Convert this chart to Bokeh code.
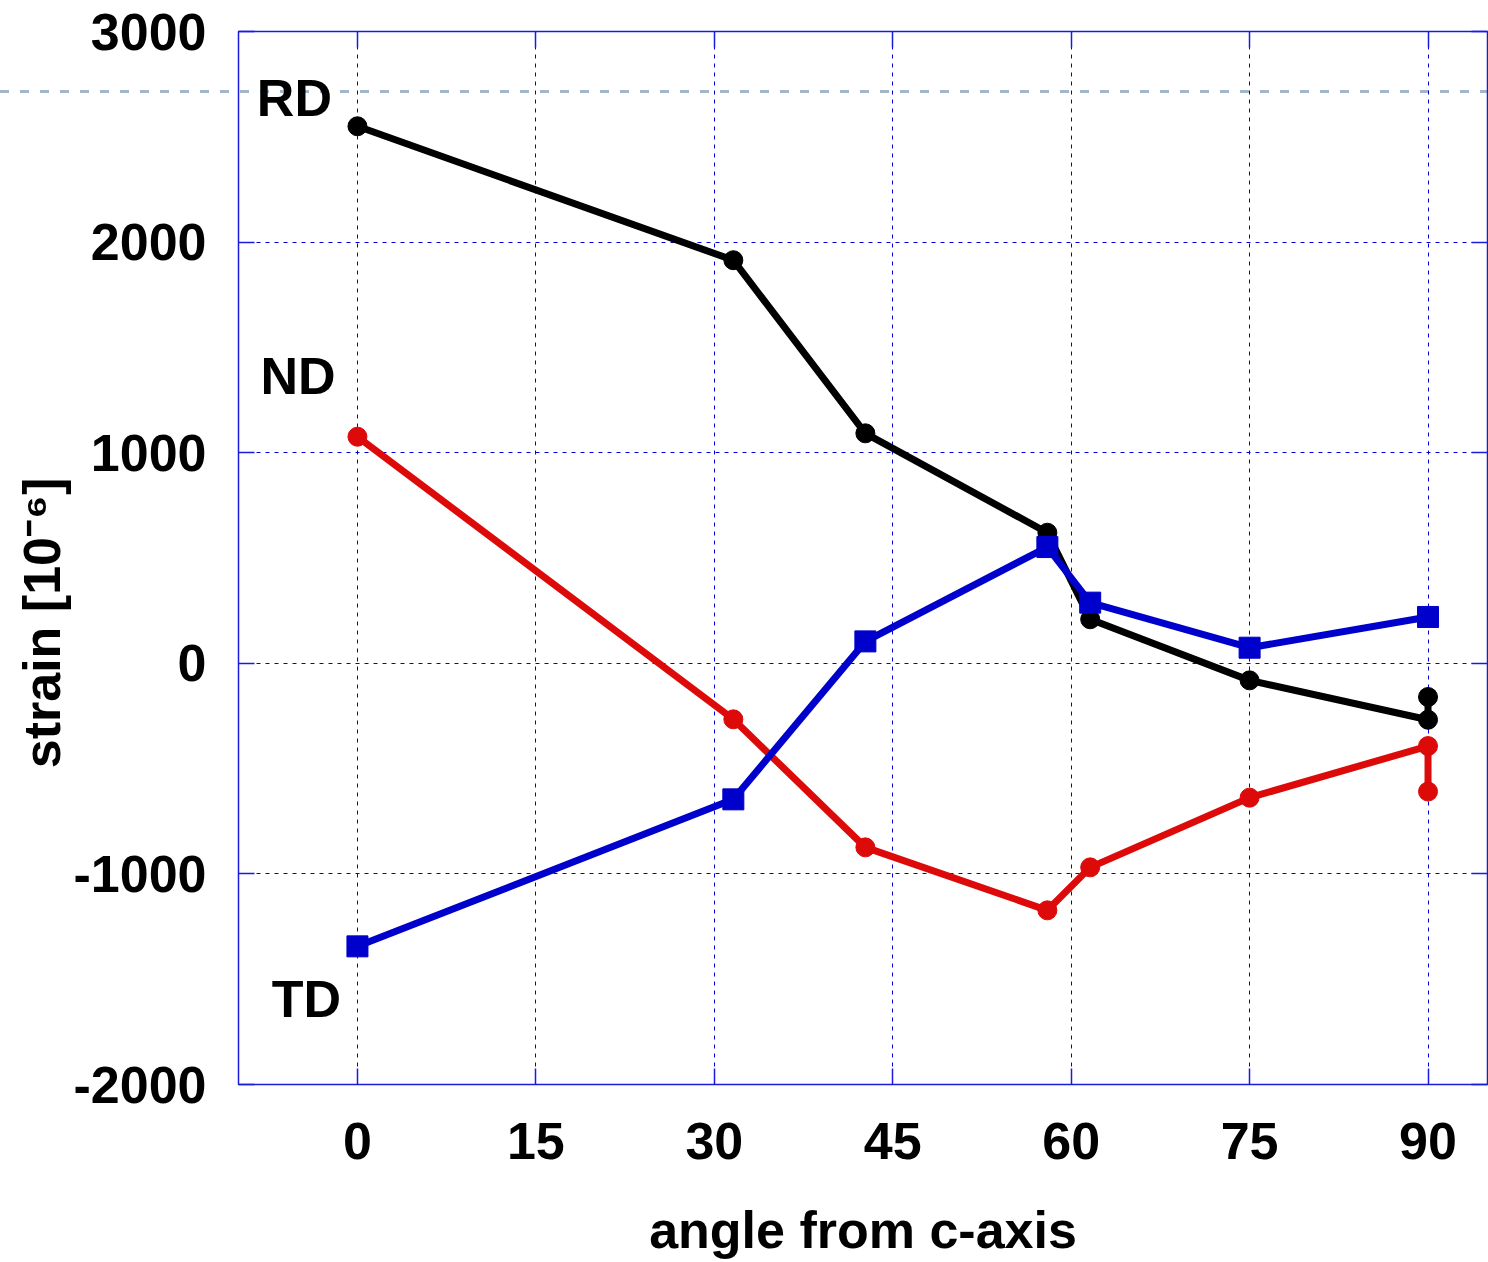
from bokeh.plotting import figure
from bokeh.models import (ColumnDataSource, FixedTicker, LinearAxis,
                          Range1d, CustomJSTickFormatter, InlineStyleSheet)
from bokeh.core.properties import value
from bokeh.embed import file_html
from bokeh.resources import INLINE

# ---------------- data ----------------
rd_x = [0, 31.6, 42.7, 58.0, 61.6, 75.0, 90.0, 90.0]
rd_y = [2550, 1914, 1092, 620, 209, -81, -268, -160]

nd_x = [0, 31.6, 42.7, 58.0, 61.6, 75.0, 90.0, 90.0]
nd_y = [1076, -266, -874, -1173, -969, -638, -393, -609]

td_x = [0, 31.6, 42.7, 58.0, 61.6, 75.0, 90.0]
td_y = [-1344, -646, 104, 552, 288, 74, 220]

series_names = ["RD", "ND", "TD"]
name_x = [-5.3, -5.0, -4.3]
name_y = [2683, 1363, -1595]

x_ticks = [0, 15, 30, 45, 60, 75, 90]
y_ticks = [-2000, -1000, 0, 1000, 2000, 3000]
y_tick_text = {t: str(t) for t in y_ticks}

x_label = "angle from c-axis"
y_label = "strain [10\u207b\u2076]" + "\u00a0" * 9

# ---------------- styling ----------------
FONT = "Liberation Sans"
FS = "52px"
GRID = "#0000dd"
BORDER = "#1a1ae0"
BLACK = "#000000"
RED = "#dd0a0a"
BLUE = "#0000cc"

# light dashed rule across the whole page (behind the transparent canvas)
page_rule = InlineStyleSheet(css="""
:host {
  background-color: white;
  background-image: repeating-linear-gradient(to right,
      #a3b7cc 0px, #a3b7cc 9px, transparent 9px, transparent 20px);
  background-size: 100% 3px;
  background-position: 0px 90px;
  background-repeat: no-repeat;
}
""")

p = figure(width=1488, height=1262,
           x_range=Range1d(-10, 95), y_range=Range1d(-2000, 3000),
           output_backend="svg", toolbar_location=None,
           min_border_left=238, min_border_right=1,
           min_border_top=31, min_border_bottom=178,
           stylesheets=[page_rule])

p.background_fill_color = None
p.border_fill_color = None
p.outline_line_color = BORDER
p.outline_line_width = 1.5

# grid
for g, ticks in ((p.xgrid, x_ticks), (p.ygrid, y_ticks)):
    g.ticker = FixedTicker(ticks=ticks)
    g.grid_line_color = GRID
    g.grid_line_width = 1
    g.grid_line_dash = "4 5"

# main axes
for ax, ticks in ((p.xaxis, x_ticks), (p.yaxis, y_ticks)):
    ax.ticker = FixedTicker(ticks=ticks, minor_ticks=[])
    ax.axis_line_color = None
    ax.major_tick_in = 16
    ax.major_tick_out = 0
    ax.major_tick_line_color = BORDER
    ax.major_tick_line_width = 1.5
    ax.minor_tick_line_color = None
    ax.major_label_text_font = FONT
    ax.major_label_text_font_style = "bold"
    ax.major_label_text_font_size = FS
    ax.major_label_text_color = "black"
    ax.axis_label_text_font = FONT
    ax.axis_label_text_font_style = "bold"
    ax.axis_label_text_font_size = FS
    ax.axis_label_text_color = "black"

p.yaxis.major_label_overrides = y_tick_text
p.xaxis.major_label_standoff = 38
p.yaxis.major_label_standoff = 32
p.xaxis.axis_label = x_label
p.xaxis.axis_label_standoff = 39
p.yaxis.axis_label = y_label
p.yaxis.axis_label_standoff = 0

# mirrored tick axes (top / right)
blank = CustomJSTickFormatter(code="return ''")
for ticks, side in ((x_ticks, "above"), (y_ticks, "right")):
    ax = LinearAxis(ticker=FixedTicker(ticks=ticks, minor_ticks=[]),
                    formatter=blank, axis_line_color=None,
                    major_tick_in=16, major_tick_out=0,
                    major_tick_line_color=BORDER, major_tick_line_width=1.5,
                    minor_tick_line_color=None, major_label_standoff=0,
                    major_label_text_font_size="1px")
    p.add_layout(ax, side)

# series
p.line(rd_x, rd_y, line_color=BLACK, line_width=7)
p.scatter(rd_x, rd_y, marker="circle", size=19, color=BLACK)

p.line(nd_x, nd_y, line_color=RED, line_width=7)
p.scatter(nd_x, nd_y, marker="circle", size=19, color=RED)

p.line(td_x, td_y, line_color=BLUE, line_width=7)
p.scatter(td_x, td_y, marker="square", size=21, color=BLUE)

# series names
src = ColumnDataSource(dict(x=name_x, y=name_y, t=series_names))
p.text(x="x", y="y", text="t", source=src, text_font=value(FONT),
       text_font_style="bold", text_font_size=FS, text_align="center",
       text_baseline="middle", text_color="black")

open("out.html", "w").write(file_html(p, INLINE))
